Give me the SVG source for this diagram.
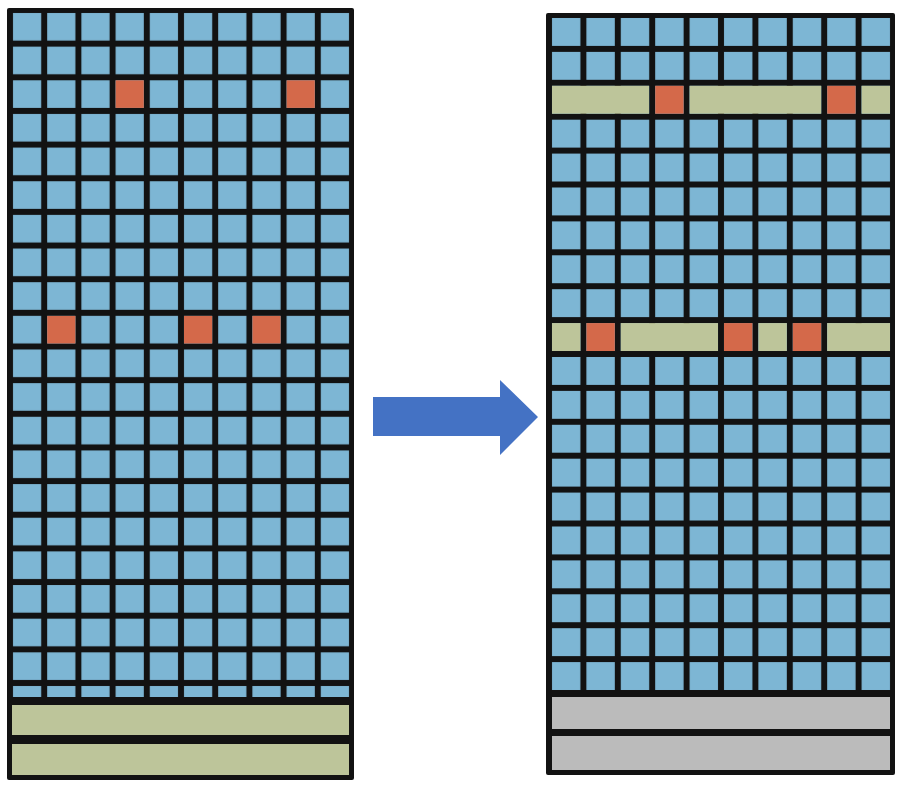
<svg xmlns="http://www.w3.org/2000/svg" width="899" height="786" viewBox="0 0 899 786">
<style>
.frame{fill:#121212}
.o{fill:#D4694A}
.t{fill:#BDC59A}
.g{fill:#BBBBBB}
.bar{fill:#BDC59A}
</style>
<defs>
<pattern id="pl" patternUnits="userSpaceOnUse" x="10" y="10" width="34.2" height="33.65">
<rect width="34.2" height="33.65" fill="#121212"/><rect x="3" y="3" width="28.2" height="27.6" fill="#7DB6D4"/>
</pattern>
<pattern id="pr" patternUnits="userSpaceOnUse" x="549" y="15" width="34.4" height="33.9">
<rect width="34.4" height="33.9" fill="#121212"/><rect x="3" y="3" width="28.4" height="27.9" fill="#7DB6D4"/>
</pattern>
</defs>
<rect width="899" height="786" fill="#fff"/>
<g id="left-grid">
<rect class="frame" x="7" y="8" width="347" height="772" rx="2"/>
<rect x="10" y="10" width="342" height="687" fill="url(#pl)"/>
<rect class="o" x="115.6" y="80.3" width="28.2" height="27.6"/>
<rect class="o" x="286.6" y="80.3" width="28.2" height="27.6"/>
<rect class="o" x="47.2" y="315.9" width="28.2" height="27.6"/>
<rect class="o" x="184" y="315.9" width="28.2" height="27.6"/>
<rect class="o" x="252.4" y="315.9" width="28.2" height="27.6"/>
<rect class="bar" x="12" y="705" width="337" height="30"/>
<rect class="bar" x="12" y="744" width="337" height="31"/>
</g>
<g id="right-grid">
<rect class="frame" x="546" y="13" width="349" height="762" rx="2"/>
<rect x="549" y="15" width="344" height="678" fill="url(#pr)"/>
<rect class="t" x="552" y="85.8" width="97" height="27.9"/>
<rect class="o" x="655.2" y="85.8" width="28.4" height="27.9"/>
<rect class="t" x="689.6" y="85.8" width="131.6" height="27.9"/>
<rect class="o" x="827.2" y="85.8" width="28.4" height="27.9"/>
<rect class="t" x="861.6" y="85.8" width="28.4" height="27.9"/>
<rect class="t" x="552" y="323.1" width="28.4" height="27.9"/>
<rect class="o" x="586.4" y="323.1" width="28.4" height="27.9"/>
<rect class="t" x="620.8" y="323.1" width="97.2" height="27.9"/>
<rect class="o" x="724" y="323.1" width="28.4" height="27.9"/>
<rect class="t" x="758.4" y="323.1" width="28.4" height="27.9"/>
<rect class="o" x="792.8" y="323.1" width="28.4" height="27.9"/>
<rect class="t" x="827.2" y="323.1" width="62.8" height="27.9"/>
<rect class="g" x="552" y="697" width="338" height="32"/>
<rect class="g" x="552" y="736" width="338" height="34"/>
</g>
<g id="connectors">
<polygon points="373,397 500,397 500,380 538,417 500,455 500,436 373,436" fill="#4472C4"/>
</g>
</svg>
